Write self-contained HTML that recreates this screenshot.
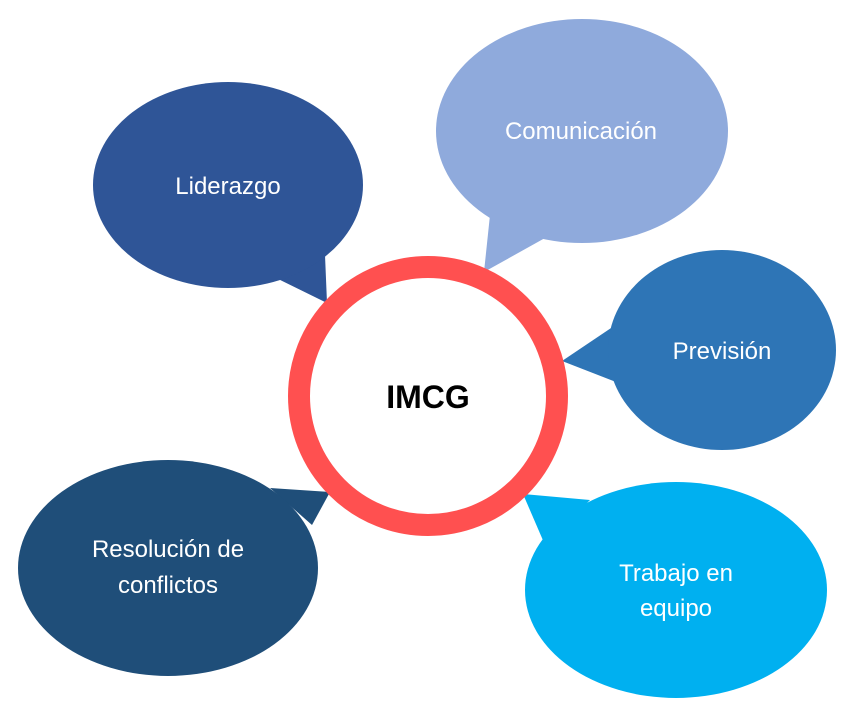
<!DOCTYPE html>
<html><head><meta charset="utf-8"><style>
html,body{margin:0;padding:0;background:#fff;}
svg{display:block;}
text{font-family:"Liberation Sans",sans-serif;}
</style></head><body>
<svg width="845" height="715" viewBox="0 0 845 715" xmlns="http://www.w3.org/2000/svg">
<g>
<polygon points="270,275 325,255 327,303" fill="#2F5597"/>
<ellipse cx="228" cy="185" rx="135" ry="103" fill="#2F5597"/>
<text x="228" y="194" font-size="24" fill="#fff" text-anchor="middle">Liderazgo</text>

<polygon points="490,215 545,238 484,272" fill="#8FAADC"/>
<ellipse cx="582" cy="131" rx="146" ry="112" fill="#8FAADC"/>
<text x="581" y="139" font-size="24" fill="#fff" text-anchor="middle">Comunicación</text>

<polygon points="620,322 616,382 562,361" fill="#2E75B6"/>
<ellipse cx="722" cy="350" rx="114" ry="100" fill="#2E75B6"/>
<text x="722" y="359" font-size="24" fill="#fff" text-anchor="middle">Previsión</text>

<polygon points="545,545 590,500 523,494" fill="#00B0F0"/>
<ellipse cx="676" cy="590" rx="151" ry="108" fill="#00B0F0"/>
<text x="676" y="581" font-size="24" fill="#fff" text-anchor="middle">Trabajo en</text>
<text x="676" y="616" font-size="24" fill="#fff" text-anchor="middle">equipo</text>

<polygon points="270,488 312,525 330,492" fill="#1F4E79"/>
<ellipse cx="168" cy="568" rx="150" ry="108" fill="#1F4E79"/>
<text x="168" y="557" font-size="24" fill="#fff" text-anchor="middle">Resolución de</text>
<text x="168" y="593" font-size="24" fill="#fff" text-anchor="middle">conflictos</text>

<circle cx="428" cy="396" r="129" fill="#fff" stroke="#FF5050" stroke-width="22"/>
<text x="428" y="408" font-size="32" font-weight="bold" fill="#000" text-anchor="middle">IMCG</text>
</g>
</svg>
</body></html>
